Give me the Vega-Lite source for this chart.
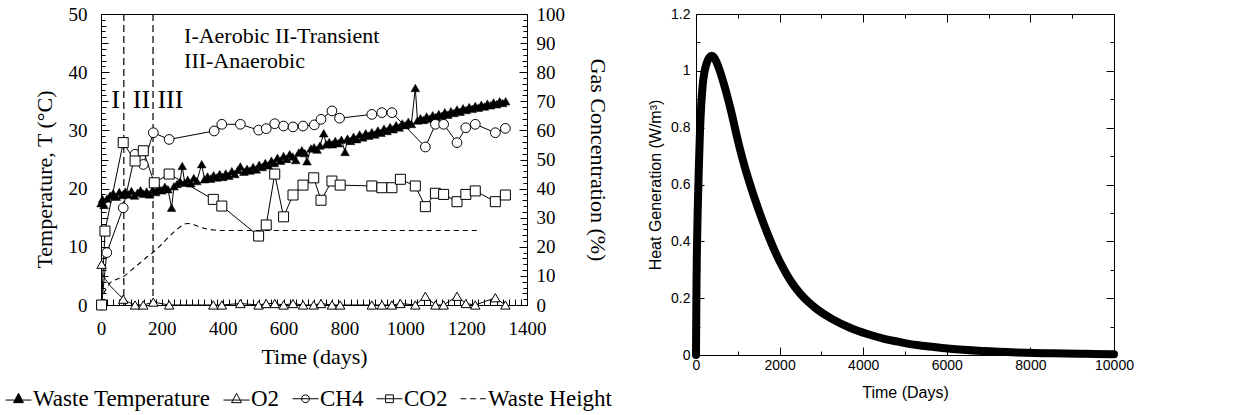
{
  "$schema": "https://vega.github.io/schema/vega-lite/v6.json",
  "autosize": {"type": "pad"},
  "padding": {"left": 5, "top": 4, "right": 0, "bottom": 0},
  "background": "white",
  "spacing": 169,
  "bounds": "flush",
  "config": {
    "view": {"stroke": "black", "strokeWidth": 1, "fill": "transparent"},
    "axis": {"labelColor": "black", "titleColor": "black", "titleFontWeight": "normal", "grid": false, "domain": false, "labelOverlap": false, "labelFlush": false, "tickColor": "black", "tickWidth": 1, "gridColor": "black", "gridOpacity": 1, "gridWidth": 1}
  },
  "datasets": {
    "left": [
      {"s": "T", "t": 0, "v": 17.5}, {"s": "T", "t": 5, "v": 18.2}, {"s": "T", "t": 10, "v": 17.2}, {"s": "T", "t": 20, "v": 18.3}, {"s": "T", "t": 30, "v": 18.8}, {"s": "T", "t": 40, "v": 19.2}, {"s": "T", "t": 50, "v": 18.6}, {"s": "T", "t": 60, "v": 19.4}, {"s": "T", "t": 70, "v": 18.9}, {"s": "T", "t": 80, "v": 19.5}, {"s": "T", "t": 90, "v": 19.0}, {"s": "T", "t": 100, "v": 19.6}, {"s": "T", "t": 110, "v": 18.8}, {"s": "T", "t": 120, "v": 19.3}, {"s": "T", "t": 130, "v": 19.7}, {"s": "T", "t": 140, "v": 19.1}, {"s": "T", "t": 150, "v": 19.5}, {"s": "T", "t": 160, "v": 19.0}, {"s": "T", "t": 170, "v": 19.8}, {"s": "T", "t": 180, "v": 19.4}, {"s": "T", "t": 190, "v": 20.1}, {"s": "T", "t": 200, "v": 19.7}, {"s": "T", "t": 210, "v": 20.3}, {"s": "T", "t": 220, "v": 19.9}, {"s": "T", "t": 232, "v": 16.7}, {"s": "T", "t": 240, "v": 20.4}, {"s": "T", "t": 250, "v": 20.8}, {"s": "T", "t": 260, "v": 21.2}, {"s": "T", "t": 267, "v": 23.9}, {"s": "T", "t": 275, "v": 21.0}, {"s": "T", "t": 285, "v": 21.5}, {"s": "T", "t": 295, "v": 20.9}, {"s": "T", "t": 305, "v": 21.8}, {"s": "T", "t": 315, "v": 21.3}, {"s": "T", "t": 331, "v": 24.2}, {"s": "T", "t": 340, "v": 21.6}, {"s": "T", "t": 350, "v": 22.1}, {"s": "T", "t": 360, "v": 21.7}, {"s": "T", "t": 370, "v": 22.3}, {"s": "T", "t": 380, "v": 21.9}, {"s": "T", "t": 390, "v": 22.5}, {"s": "T", "t": 400, "v": 22.0}, {"s": "T", "t": 410, "v": 22.6}, {"s": "T", "t": 420, "v": 22.2}, {"s": "T", "t": 430, "v": 23.0}, {"s": "T", "t": 440, "v": 22.5}, {"s": "T", "t": 450, "v": 23.2}, {"s": "T", "t": 458, "v": 23.8}, {"s": "T", "t": 470, "v": 22.9}, {"s": "T", "t": 480, "v": 23.4}, {"s": "T", "t": 490, "v": 23.1}, {"s": "T", "t": 500, "v": 23.7}, {"s": "T", "t": 510, "v": 23.3}, {"s": "T", "t": 520, "v": 24.1}, {"s": "T", "t": 530, "v": 23.7}, {"s": "T", "t": 540, "v": 24.4}, {"s": "T", "t": 550, "v": 24.0}, {"s": "T", "t": 560, "v": 24.8}, {"s": "T", "t": 570, "v": 24.4}, {"s": "T", "t": 580, "v": 25.3}, {"s": "T", "t": 590, "v": 24.8}, {"s": "T", "t": 600, "v": 25.6}, {"s": "T", "t": 610, "v": 25.1}, {"s": "T", "t": 620, "v": 25.9}, {"s": "T", "t": 630, "v": 25.5}, {"s": "T", "t": 640, "v": 24.9}, {"s": "T", "t": 650, "v": 26.2}, {"s": "T", "t": 660, "v": 26.6}, {"s": "T", "t": 670, "v": 26.1}, {"s": "T", "t": 677, "v": 24.7}, {"s": "T", "t": 690, "v": 26.9}, {"s": "T", "t": 700, "v": 27.1}, {"s": "T", "t": 710, "v": 26.7}, {"s": "T", "t": 720, "v": 27.4}, {"s": "T", "t": 732, "v": 29.5}, {"s": "T", "t": 740, "v": 27.6}, {"s": "T", "t": 750, "v": 28.0}, {"s": "T", "t": 760, "v": 27.6}, {"s": "T", "t": 770, "v": 28.2}, {"s": "T", "t": 780, "v": 27.8}, {"s": "T", "t": 790, "v": 28.4}, {"s": "T", "t": 802, "v": 26.3}, {"s": "T", "t": 810, "v": 28.6}, {"s": "T", "t": 820, "v": 28.2}, {"s": "T", "t": 830, "v": 28.9}, {"s": "T", "t": 840, "v": 28.5}, {"s": "T", "t": 850, "v": 29.3}, {"s": "T", "t": 860, "v": 28.8}, {"s": "T", "t": 870, "v": 29.5}, {"s": "T", "t": 880, "v": 29.1}, {"s": "T", "t": 890, "v": 29.7}, {"s": "T", "t": 900, "v": 29.3}, {"s": "T", "t": 910, "v": 30.0}, {"s": "T", "t": 920, "v": 29.6}, {"s": "T", "t": 930, "v": 30.3}, {"s": "T", "t": 940, "v": 29.9}, {"s": "T", "t": 950, "v": 30.6}, {"s": "T", "t": 960, "v": 30.2}, {"s": "T", "t": 970, "v": 30.9}, {"s": "T", "t": 980, "v": 30.5}, {"s": "T", "t": 990, "v": 31.2}, {"s": "T", "t": 1000, "v": 30.9}, {"s": "T", "t": 1010, "v": 31.5}, {"s": "T", "t": 1020, "v": 31.1}, {"s": "T", "t": 1033, "v": 37.3}, {"s": "T", "t": 1040, "v": 31.7}, {"s": "T", "t": 1050, "v": 32.1}, {"s": "T", "t": 1060, "v": 31.8}, {"s": "T", "t": 1070, "v": 32.4}, {"s": "T", "t": 1080, "v": 32.0}, {"s": "T", "t": 1090, "v": 32.6}, {"s": "T", "t": 1100, "v": 32.3}, {"s": "T", "t": 1110, "v": 32.8}, {"s": "T", "t": 1120, "v": 32.5}, {"s": "T", "t": 1130, "v": 33.1}, {"s": "T", "t": 1140, "v": 32.7}, {"s": "T", "t": 1150, "v": 33.3}, {"s": "T", "t": 1160, "v": 33.0}, {"s": "T", "t": 1170, "v": 33.6}, {"s": "T", "t": 1180, "v": 33.2}, {"s": "T", "t": 1190, "v": 33.8}, {"s": "T", "t": 1200, "v": 33.5}, {"s": "T", "t": 1210, "v": 34.0}, {"s": "T", "t": 1220, "v": 33.7}, {"s": "T", "t": 1230, "v": 34.2}, {"s": "T", "t": 1240, "v": 33.9}, {"s": "T", "t": 1250, "v": 34.4}, {"s": "T", "t": 1260, "v": 34.1}, {"s": "T", "t": 1270, "v": 34.6}, {"s": "T", "t": 1280, "v": 34.3}, {"s": "T", "t": 1290, "v": 34.8}, {"s": "T", "t": 1300, "v": 34.5}, {"s": "T", "t": 1310, "v": 35.0}, {"s": "T", "t": 1320, "v": 34.7}, {"s": "T", "t": 1330, "v": 35.0},
      {"s": "CO2", "t": 2, "v": 0}, {"s": "CO2", "t": 13, "v": 25.4}, {"s": "CO2", "t": 73, "v": 55.8}, {"s": "CO2", "t": 112, "v": 49.5}, {"s": "CO2", "t": 139, "v": 53}, {"s": "CO2", "t": 175, "v": 42}, {"s": "CO2", "t": 224, "v": 45}, {"s": "CO2", "t": 369, "v": 36.3}, {"s": "CO2", "t": 397, "v": 34}, {"s": "CO2", "t": 518, "v": 23.7}, {"s": "CO2", "t": 543, "v": 27.5}, {"s": "CO2", "t": 571, "v": 45}, {"s": "CO2", "t": 600, "v": 30.3}, {"s": "CO2", "t": 631, "v": 37.8}, {"s": "CO2", "t": 664, "v": 41.2}, {"s": "CO2", "t": 699, "v": 43.7}, {"s": "CO2", "t": 723, "v": 36}, {"s": "CO2", "t": 759, "v": 42.6}, {"s": "CO2", "t": 786, "v": 41.2}, {"s": "CO2", "t": 890, "v": 40.9}, {"s": "CO2", "t": 923, "v": 40.3}, {"s": "CO2", "t": 956, "v": 40.3}, {"s": "CO2", "t": 984, "v": 43.2}, {"s": "CO2", "t": 1033, "v": 40.9}, {"s": "CO2", "t": 1066, "v": 33.8}, {"s": "CO2", "t": 1099, "v": 38.4}, {"s": "CO2", "t": 1126, "v": 38}, {"s": "CO2", "t": 1170, "v": 35.5}, {"s": "CO2", "t": 1199, "v": 38}, {"s": "CO2", "t": 1230, "v": 39.2}, {"s": "CO2", "t": 1296, "v": 35.5}, {"s": "CO2", "t": 1329, "v": 37.8},
      {"s": "CH4", "t": 2, "v": 0}, {"s": "CH4", "t": 19, "v": 18}, {"s": "CH4", "t": 73, "v": 33.4}, {"s": "CH4", "t": 112, "v": 51.8}, {"s": "CH4", "t": 139, "v": 48.3}, {"s": "CH4", "t": 172, "v": 59.2}, {"s": "CH4", "t": 224, "v": 56.9}, {"s": "CH4", "t": 372, "v": 59.8}, {"s": "CH4", "t": 397, "v": 62.1}, {"s": "CH4", "t": 458, "v": 62.1}, {"s": "CH4", "t": 518, "v": 60.1}, {"s": "CH4", "t": 543, "v": 60.6}, {"s": "CH4", "t": 571, "v": 62.3}, {"s": "CH4", "t": 600, "v": 61.5}, {"s": "CH4", "t": 631, "v": 61.2}, {"s": "CH4", "t": 664, "v": 61.5}, {"s": "CH4", "t": 701, "v": 61.9}, {"s": "CH4", "t": 723, "v": 63.8}, {"s": "CH4", "t": 759, "v": 66.7}, {"s": "CH4", "t": 784, "v": 64.2}, {"s": "CH4", "t": 890, "v": 65.5}, {"s": "CH4", "t": 923, "v": 66.1}, {"s": "CH4", "t": 956, "v": 66.1}, {"s": "CH4", "t": 1066, "v": 54.3}, {"s": "CH4", "t": 1099, "v": 62.1}, {"s": "CH4", "t": 1126, "v": 62.1}, {"s": "CH4", "t": 1170, "v": 55.8}, {"s": "CH4", "t": 1199, "v": 60.9}, {"s": "CH4", "t": 1230, "v": 62.1}, {"s": "CH4", "t": 1296, "v": 59.2}, {"s": "CH4", "t": 1329, "v": 60.7},
      {"s": "O2", "t": 2, "v": 14}, {"s": "O2", "t": 73, "v": 2}, {"s": "O2", "t": 112, "v": 0}, {"s": "O2", "t": 139, "v": 0}, {"s": "O2", "t": 172, "v": 1}, {"s": "O2", "t": 224, "v": 0}, {"s": "O2", "t": 369, "v": 0}, {"s": "O2", "t": 397, "v": 0}, {"s": "O2", "t": 458, "v": 0.5}, {"s": "O2", "t": 518, "v": 0}, {"s": "O2", "t": 543, "v": 0.5}, {"s": "O2", "t": 571, "v": 0.5}, {"s": "O2", "t": 600, "v": 0}, {"s": "O2", "t": 631, "v": 0.5}, {"s": "O2", "t": 664, "v": 0}, {"s": "O2", "t": 699, "v": 0}, {"s": "O2", "t": 723, "v": 0.5}, {"s": "O2", "t": 759, "v": 0}, {"s": "O2", "t": 786, "v": 0}, {"s": "O2", "t": 890, "v": 0}, {"s": "O2", "t": 923, "v": 0}, {"s": "O2", "t": 956, "v": 0}, {"s": "O2", "t": 984, "v": 0.5}, {"s": "O2", "t": 1033, "v": 0}, {"s": "O2", "t": 1066, "v": 3}, {"s": "O2", "t": 1099, "v": 0}, {"s": "O2", "t": 1126, "v": 0}, {"s": "O2", "t": 1170, "v": 3}, {"s": "O2", "t": 1199, "v": 0.5}, {"s": "O2", "t": 1230, "v": 0}, {"s": "O2", "t": 1296, "v": 2.5}, {"s": "O2", "t": 1329, "v": 0},
      {"s": "O2c", "t": 3, "v": 11}, {"s": "O2c", "t": 15, "v": 8.8}, {"s": "O2c", "t": 30, "v": 6.6}, {"s": "O2c", "t": 45, "v": 5.0}, {"s": "O2c", "t": 60, "v": 3.4}, {"s": "O2c", "t": 73, "v": 2.2}, {"s": "O2c", "t": 90, "v": 1.0}, {"s": "O2c", "t": 111, "v": 0},
      {"s": "H", "t": 9, "v": 2}, {"s": "H", "t": 30, "v": 3.8}, {"s": "H", "t": 50, "v": 4.4}, {"s": "H", "t": 74, "v": 4.9}, {"s": "H", "t": 100, "v": 6.0}, {"s": "H", "t": 123, "v": 7}, {"s": "H", "t": 150, "v": 8.2}, {"s": "H", "t": 168, "v": 8.9}, {"s": "H", "t": 195, "v": 10.2}, {"s": "H", "t": 221, "v": 11.6}, {"s": "H", "t": 250, "v": 13.0}, {"s": "H", "t": 283, "v": 14}, {"s": "H", "t": 300, "v": 13.9}, {"s": "H", "t": 320, "v": 13.5}, {"s": "H", "t": 345, "v": 13.1}, {"s": "H", "t": 370, "v": 12.9}, {"s": "H", "t": 400, "v": 12.8}, {"s": "H", "t": 1246, "v": 12.8}
    ],
    "phase": [{"t": 75}, {"t": 171}],
    "notes": [
      {"t": 273, "v": 45.0, "label": "I-Aerobic II-Transient"},
      {"t": 273, "v": 40.7, "label": "III-Anaerobic"}
    ],
    "roman": [
      {"t": 47.6, "v": 33.8, "label": "I"},
      {"t": 133, "v": 33.8, "label": "II"},
      {"t": 228, "v": 33.8, "label": "III"}
    ],
    "heat": [
      {"t": 0, "q": 0}, {"t": 5, "q": 0.12}, {"t": 12, "q": 0.25}, {"t": 22, "q": 0.37}, {"t": 35, "q": 0.47}, {"t": 50, "q": 0.56}, {"t": 70, "q": 0.67}, {"t": 96, "q": 0.79}, {"t": 125, "q": 0.88}, {"t": 160, "q": 0.95}, {"t": 200, "q": 0.995}, {"t": 255, "q": 1.027}, {"t": 320, "q": 1.047}, {"t": 375, "q": 1.053}, {"t": 430, "q": 1.048}, {"t": 494, "q": 1.03}, {"t": 570, "q": 1.0}, {"t": 654, "q": 0.96}, {"t": 750, "q": 0.91}, {"t": 853, "q": 0.85}, {"t": 950, "q": 0.787}, {"t": 1053, "q": 0.724}, {"t": 1170, "q": 0.66}, {"t": 1292, "q": 0.601}, {"t": 1410, "q": 0.548}, {"t": 1531, "q": 0.497}, {"t": 1700, "q": 0.431}, {"t": 1850, "q": 0.378}, {"t": 2010, "q": 0.327}, {"t": 2250, "q": 0.264}, {"t": 2488, "q": 0.217}, {"t": 2700, "q": 0.185}, {"t": 2887, "q": 0.162}, {"t": 3250, "q": 0.127}, {"t": 3684, "q": 0.096}, {"t": 4100, "q": 0.074}, {"t": 4481, "q": 0.058}, {"t": 4900, "q": 0.045}, {"t": 5279, "q": 0.035}, {"t": 5700, "q": 0.028}, {"t": 6076, "q": 0.022}, {"t": 6874, "q": 0.014}, {"t": 7671, "q": 0.009}, {"t": 8500, "q": 0.006}, {"t": 9300, "q": 0.004}, {"t": 10000, "q": 0.003}
    ]
  },
  "hconcat": [
    {
      "width": 426,
      "height": 291,
      "data": {"name": "left"},
      "layer": [
        {
          "data": {"name": "phase"},
          "mark": {"type": "rule", "color": "black", "strokeWidth": 1.2, "strokeDash": [7, 4]},
          "encoding": {
            "x": {"field": "t", "type": "quantitative", "scale": {"domain": [0, 1400], "nice": false}, "axis": null}
          }
        },
        {
          "transform": [{"filter": "datum.s == 'H'"}],
          "mark": {"type": "line", "color": "black", "strokeWidth": 1.1, "strokeDash": [5, 4], "interpolate": "monotone"},
          "encoding": {
            "x": {"field": "t", "type": "quantitative", "scale": {"domain": [0, 1400], "nice": false},
              "axis": {"orient": "bottom", "tickCount": 7, "format": "d", "ticks": false, "labelPadding": 14, "labelFont": "Liberation Serif", "labelFontSize": 19, "title": "Time (days)", "titleFont": "Liberation Serif", "titleFontSize": 22, "titlePadding": 8}},
            "y": {"field": "v", "type": "quantitative", "scale": {"domain": [0, 50], "nice": false},
              "axis": {"orient": "left", "tickCount": 5, "ticks": false, "labelPadding": 14, "labelFont": "Liberation Serif", "labelFontSize": 19, "title": "Temperature, T (°C)", "titleFont": "Liberation Serif", "titleFontSize": 22, "titlePadding": 12, "titleY": 165}}
          }
        },
        {
          "transform": [{"filter": "datum.s == 'T'"}],
          "mark": {"type": "line", "color": "black", "strokeWidth": 1},
          "encoding": {
            "x": {"field": "t", "type": "quantitative", "scale": {"domain": [0, 1400], "nice": false},
              "axis": {"orient": "bottom", "tickCount": 70, "labels": false, "ticks": false, "grid": true, "gridDash": [0, 285, 6, 3000], "title": null}},
            "y": {"field": "v", "type": "quantitative", "scale": {"domain": [0, 50], "nice": false},
              "axis": {"orient": "left", "tickCount": 5, "labels": false, "ticks": false, "grid": true, "gridDash": [8, 410, 8, 3000], "title": null}}
          }
        },
        {
          "transform": [{"filter": "datum.s == 'T'"}],
          "mark": {"type": "point", "shape": "triangle-up", "filled": true, "fill": "black", "stroke": "black", "strokeWidth": 0.5, "size": 75, "opacity": 1},
          "encoding": {
            "x": {"field": "t", "type": "quantitative", "scale": {"domain": [0, 1400], "nice": false}, "axis": null},
            "y": {"field": "v", "type": "quantitative", "scale": {"domain": [0, 50], "nice": false},
              "axis": {"orient": "left", "tickCount": 25, "labels": false, "ticks": false, "grid": true, "gridDash": [5, 416, 5, 3000], "title": null}}
          }
        },
        {
          "transform": [{"filter": "datum.s == 'O2c' || datum.s == 'CH4' || datum.s == 'CO2' || (datum.s == 'O2' && datum.t >= 110)"}],
          "mark": {"type": "line", "color": "black", "strokeWidth": 1},
          "encoding": {
            "x": {"field": "t", "type": "quantitative", "scale": {"domain": [0, 1400], "nice": false}, "axis": null},
            "y": {"field": "v", "type": "quantitative", "scale": {"domain": [0, 100], "nice": false},
              "axis": {"orient": "right", "tickCount": 10, "ticks": false, "labelPadding": 9, "labelFont": "Liberation Serif", "labelFontSize": 19, "title": "Gas Concentration (%)", "titleFont": "Liberation Serif", "titleFontSize": 22, "titlePadding": 21}},
            "detail": {"field": "s", "type": "nominal"}
          }
        },
        {
          "transform": [{"filter": "datum.s == 'O2'"}],
          "mark": {"type": "point", "shape": "triangle-up", "filled": true, "fill": "white", "stroke": "black", "strokeWidth": 1, "size": 90, "opacity": 1},
          "encoding": {
            "x": {"field": "t", "type": "quantitative", "scale": {"domain": [0, 1400], "nice": false}, "axis": null},
            "y": {"field": "v", "type": "quantitative", "scale": {"domain": [0, 100], "nice": false},
              "axis": {"orient": "right", "tickCount": 10, "labels": false, "ticks": false, "grid": true, "gridDash": [7, 412, 7, 3000], "title": null}}
          }
        },
        {
          "transform": [{"filter": "datum.s == 'CH4'"}],
          "mark": {"type": "point", "shape": "circle", "filled": true, "fill": "white", "stroke": "black", "strokeWidth": 1, "size": 95, "opacity": 1},
          "encoding": {
            "x": {"field": "t", "type": "quantitative", "scale": {"domain": [0, 1400], "nice": false}, "axis": null},
            "y": {"field": "v", "type": "quantitative", "scale": {"domain": [0, 100], "nice": false},
              "axis": {"orient": "right", "tickCount": 50, "labels": false, "ticks": false, "grid": true, "gridDash": [4, 418, 4, 3000], "title": null}}
          }
        },
        {
          "transform": [{"filter": "datum.s == 'CO2'"}],
          "mark": {"type": "point", "shape": "square", "filled": true, "fill": "white", "stroke": "black", "strokeWidth": 1, "size": 100, "opacity": 1},
          "encoding": {
            "x": {"field": "t", "type": "quantitative", "scale": {"domain": [0, 1400], "nice": false}, "axis": null},
            "y": {"field": "v", "type": "quantitative", "scale": {"domain": [0, 100], "nice": false}, "axis": null}
          }
        },
        {
          "transform": [{"filter": "false"}],
          "mark": {"type": "point", "filled": true, "strokeWidth": 1, "opacity": 1},
          "encoding": {
            "x": {"field": "t", "type": "quantitative", "scale": {"domain": [0, 1400], "nice": false}, "axis": null},
            "y": {"field": "v", "type": "quantitative", "scale": {"domain": [0, 50], "nice": false}, "axis": null},
            "shape": {"field": "s", "type": "nominal",
              "scale": {"domain": ["T", "O2", "CH4", "CO2", "H"], "range": ["M-1,0.1H1M0,-0.42L0.38,0.3L-0.38,0.3Z", "M-1,0.1H1M0,-0.42L0.38,0.3L-0.38,0.3Z", "M-1,0H1M0.3,0A0.3,0.3,0,1,1,-0.3,0A0.3,0.3,0,1,1,0.3,0", "M-1,0H1M-0.3,-0.3H0.3V0.3H-0.3Z", "M-1,0H-0.55M-0.25,0H0.2M0.5,0H0.95"]},
              "legend": {"orient": "none", "legendX": -96, "legendY": 371, "direction": "horizontal", "title": null, "labelFont": "Liberation Serif", "labelFontSize": 23, "labelColor": "black", "labelOffset": 1, "columnPadding": 10, "symbolSize": 676, "symbolStrokeWidth": 1, "symbolOpacity": 1, "labelLimit": 400,
                "labelExpr": "datum.label == 'T' ? 'Waste Temperature' : datum.label == 'H' ? 'Waste Height' : datum.label"}},
            "fill": {"field": "s", "type": "nominal",
              "scale": {"domain": ["T", "O2", "CH4", "CO2", "H"], "range": ["black", "white", "white", "white", "white"]},
              "legend": {"orient": "none", "legendX": -96, "legendY": 371, "direction": "horizontal", "title": null, "labelFont": "Liberation Serif", "labelFontSize": 23, "labelColor": "black", "labelOffset": 1, "columnPadding": 10, "symbolSize": 676, "symbolStrokeWidth": 1, "symbolOpacity": 1, "labelLimit": 400,
                "labelExpr": "datum.label == 'T' ? 'Waste Temperature' : datum.label == 'H' ? 'Waste Height' : datum.label"}},
            "stroke": {"field": "s", "type": "nominal",
              "scale": {"domain": ["T", "O2", "CH4", "CO2", "H"], "range": ["black", "black", "black", "black", "black"]},
              "legend": {"orient": "none", "legendX": -96, "legendY": 371, "direction": "horizontal", "title": null, "labelFont": "Liberation Serif", "labelFontSize": 23, "labelColor": "black", "labelOffset": 1, "columnPadding": 10, "symbolSize": 676, "symbolStrokeWidth": 1, "symbolOpacity": 1, "labelLimit": 400,
                "labelExpr": "datum.label == 'T' ? 'Waste Temperature' : datum.label == 'H' ? 'Waste Height' : datum.label"}}
          }
        },
        {
          "data": {"name": "notes"},
          "mark": {"type": "text", "font": "Liberation Serif", "fontSize": 22, "align": "left", "baseline": "alphabetic", "color": "black"},
          "encoding": {
            "x": {"field": "t", "type": "quantitative", "scale": {"domain": [0, 1400], "nice": false}, "axis": null},
            "y": {"field": "v", "type": "quantitative", "scale": {"domain": [0, 50], "nice": false}, "axis": null},
            "text": {"field": "label"}
          }
        },
        {
          "data": {"name": "roman"},
          "mark": {"type": "text", "font": "Liberation Serif", "fontSize": 26, "align": "center", "baseline": "alphabetic", "color": "black"},
          "encoding": {
            "x": {"field": "t", "type": "quantitative", "scale": {"domain": [0, 1400], "nice": false}, "axis": null},
            "y": {"field": "v", "type": "quantitative", "scale": {"domain": [0, 50], "nice": false}, "axis": null},
            "text": {"field": "label"}
          }
        }
      ],
      "resolve": {"scale": {"y": "independent"}, "axis": {"x": "independent", "y": "independent"}}
    },
    {
      "width": 418,
      "height": 341,
      "data": {"name": "heat"},
      "layer": [
        {
          "mark": {"type": "line", "color": "black", "strokeWidth": 8, "strokeCap": "round", "strokeJoin": "round", "interpolate": "monotone"},
          "encoding": {
            "x": {"field": "t", "type": "quantitative", "scale": {"domain": [0, 10000], "nice": false},
              "axis": {"orient": "bottom", "tickCount": 5, "format": "d", "ticks": false, "labelPadding": 3, "labelFont": "Liberation Sans", "labelFontSize": 14, "title": "Time (Days)", "titleFont": "Liberation Sans", "titleFontSize": 16, "titlePadding": 12}},
            "y": {"field": "q", "type": "quantitative", "scale": {"domain": [0, 1.2], "nice": false},
              "axis": {"orient": "left", "tickCount": 6, "format": "~g", "ticks": false, "labelPadding": 6, "labelFont": "Liberation Sans", "labelFontSize": 14, "title": "Heat Generation (W/m³)", "titleFont": "Liberation Sans", "titleFontSize": 16, "titlePadding": 7}}
          }
        },
        {
          "mark": {"type": "line", "opacity": 0},
          "encoding": {
            "x": {"field": "t", "type": "quantitative", "scale": {"domain": [0, 10000], "nice": false},
              "axis": {"orient": "bottom", "tickCount": 5, "labels": false, "ticks": false, "grid": true, "gridDash": [8, 325, 8, 3000], "title": null}},
            "y": {"field": "q", "type": "quantitative", "scale": {"domain": [0, 1.2], "nice": false},
              "axis": {"orient": "left", "tickCount": 6, "labels": false, "ticks": false, "grid": true, "gridDash": [8, 402, 8, 3000], "title": null}}
          }
        },
        {
          "mark": {"type": "line", "opacity": 0},
          "encoding": {
            "x": {"field": "t", "type": "quantitative", "scale": {"domain": [0, 10000], "nice": false},
              "axis": {"orient": "bottom", "tickCount": 10, "labels": false, "ticks": false, "grid": true, "gridDash": [4, 333, 4, 3000], "title": null}},
            "y": {"field": "q", "type": "quantitative", "scale": {"domain": [0, 1.2], "nice": false},
              "axis": {"orient": "left", "tickCount": 12, "labels": false, "ticks": false, "grid": true, "gridDash": [4, 410, 4, 3000], "title": null}}
          }
        }
      ],
      "resolve": {"axis": {"x": "independent", "y": "independent"}}
    }
  ]
}
